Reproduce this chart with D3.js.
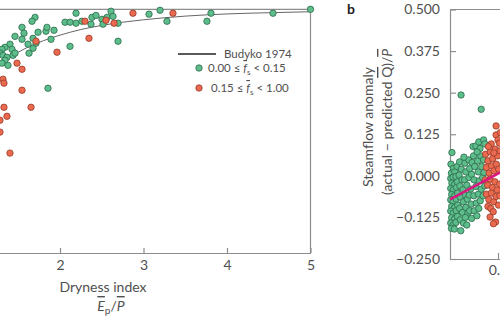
<!DOCTYPE html>
<html><head><meta charset="utf-8">
<script src="https://cdn.jsdelivr.net/npm/d3@7"></script>
<style>body{margin:0;background:#fff}svg{display:block}text{font-family:Lato,"Open Sans",sans-serif;fill:#505050}</style>
</head><body>
<script>
// ---------- Panel a data ----------
const aTicks = [2, 3, 4, 5];
const budykoX = [1.2, 1.4, 1.6, 1.8, 2.0, 2.25, 2.5, 2.75, 3.0, 3.5, 4.0, 4.5, 5.0];
const budykoY = [0.756, 0.804, 0.842, 0.871, 0.894, 0.917, 0.934, 0.947, 0.957, 0.972, 0.981, 0.986, 0.990];
const aGreen = [[1.701,0.967],[1.665,0.951],[1.545,0.926],[1.569,0.902],[1.461,0.889],[1.545,0.877],[1.677,0.881],[1.737,0.906],[1.832,0.910],[1.844,0.926],[1.928,0.914],[1.892,0.877],[1.617,0.857],[1.677,0.840],[1.713,0.861],[1.629,0.820],[1.401,0.857],[1.341,0.844],[1.425,0.836],[1.305,0.836],[1.281,0.820],[1.317,0.811],[1.437,0.811],[1.461,0.820],[1.365,0.803],[1.341,0.791],[1.305,0.779],[1.377,0.770],[2.120,0.848],[2.192,0.984],[2.192,0.943],[2.060,0.947],[2.120,0.947],[2.263,0.951],[2.383,0.967],[2.431,0.975],[2.371,0.939],[2.503,0.959],[2.515,0.939],[2.563,0.967],[2.611,0.992],[2.635,0.971],[2.695,0.943],[2.695,0.869],[1.856,0.676],[3.066,0.980],[3.198,0.996],[3.281,0.951],[3.808,0.984],[3.760,0.951],[4.551,0.984],[5.0,1.0]];
const aRed = [[1.713,0.869],[1.964,0.824],[2.299,0.951],[2.347,0.881],[2.551,0.955],[2.647,0.943],[2.874,0.984],[3.353,0.984],[1.485,0.779],[1.545,0.754],[1.317,0.713],[1.329,0.697],[1.545,0.668],[1.329,0.598],[1.653,0.598],[1.365,0.561],[1.281,0.545],[1.281,0.496],[1.401,0.410]];

// ---------- Panel b data ----------
const bYTicks = [-0.25, -0.125, 0, 0.125, 0.25, 0.375, 0.5];
const bXTicks = [0.2];
const bGreen = [[0.004,0.035],[0.014,0.022],[0.006,0.008],[0.02,0.012],[0.003,-0.008],[0.013,-0.004],[0.025,-0.002],[0.008,-0.022],[0.019,-0.026],[0.003,-0.038],[0.014,-0.042],[0.027,-0.035],[0.007,-0.056],[0.02,-0.06],[0.003,-0.072],[0.013,-0.078],[0.026,-0.07],[0.007,-0.092],[0.019,-0.095],[0.003,-0.106],[0.013,-0.112],[0.026,-0.105],[0.007,-0.126],[0.019,-0.13],[0.003,-0.142],[0.013,-0.148],[0.025,-0.14],[0.006,-0.158],[0.018,-0.16],[0.03,0.028],[0.031,-0.018],[0.032,-0.052],[0.032,-0.088],[0.031,-0.122],[0.008,0.07],
[0.04,0.042],[0.047,0.02],[0.038,0.002],[0.05,-0.012],[0.041,-0.03],[0.054,-0.042],[0.043,-0.064],[0.056,-0.078],[0.04,-0.098],[0.052,-0.11],[0.043,-0.132],[0.056,-0.142],[0.045,-0.165],[0.062,0.038],[0.066,0.012],[0.061,-0.012],[0.07,-0.028],[0.064,-0.058],[0.072,-0.07],[0.066,-0.095],[0.074,-0.112],[0.064,-0.125],[0.07,-0.148],[0.078,0.048],[0.082,0.022],[0.079,-0.005],[0.086,-0.04],[0.08,-0.058],[0.088,-0.085],[0.082,-0.105],[0.09,-0.128],[0.058,0.056],[0.09,0.005],[0.092,0.04],
[0.098,0.06],[0.103,0.028],[0.1,-0.012],[0.108,-0.032],[0.099,-0.06],[0.11,-0.082],[0.101,-0.105],[0.112,-0.12],[0.115,0.045],[0.118,0.012],[0.122,-0.015],[0.118,-0.055],[0.126,-0.075],[0.12,-0.098],[0.128,0.06],[0.132,0.028],[0.136,-0.005],[0.13,-0.04],[0.14,0.048],[0.142,0.01],[0.138,-0.06],[0.145,-0.03],
[0.046,0.243],[0.13,0.2],[0.096,0.088],[0.108,0.09],[0.12,0.102],[0.125,0.082],[0.14,0.108],[0.145,0.096],[0.113,0.072]];
const bRed = [[0.148,0.065],[0.158,0.045],[0.168,0.072],[0.178,0.052],[0.188,0.08],[0.198,0.06],[0.208,0.075],[0.152,0.025],[0.163,0.008],[0.173,0.03],[0.183,0.015],[0.193,0.035],[0.203,0.02],[0.147,-0.012],[0.157,-0.028],[0.167,-0.01],[0.177,-0.035],[0.187,-0.018],[0.197,-0.042],[0.207,-0.025],[0.152,-0.055],[0.162,-0.072],[0.172,-0.052],[0.182,-0.078],[0.192,-0.062],[0.202,-0.088],[0.158,-0.092],[0.17,-0.098],[0.18,-0.108],[0.167,-0.124],[0.19,-0.139],[0.181,-0.144],[0.192,0.15],[0.172,0.096],[0.192,0.123],[0.2,0.108],[0.183,0.069],[0.21,0.13],[0.206,0.098],[0.16,0.088],[0.208,-0.06]];
const fitX = [0, 0.25];
const fitY = [-0.071, 0.026];

const GREEN = "#5dbd8b", GREEN_S = "#2c6a4b", RED = "#ea6a50", RED_S = "#973a27", AXIS = "#8d8d8d";

const svg = d3.select("body").append("svg").attr("width", 500).attr("height", 319);
svg.append("rect").attr("width", 500).attr("height", 319).attr("fill", "#fff");

function styleAxis(g) {
  g.selectAll(".domain").attr("stroke", AXIS).attr("stroke-width", 1.2);
  g.selectAll(".tick line").attr("stroke", AXIS).attr("stroke-width", 1.2);
  g.selectAll(".tick text").attr("font-size", 14).attr("font-family", "Lato").attr("fill", "#505050");
}
function dots(g, data, x, y, fill, stroke) {
  g.selectAll(null).data(data).join("circle")
    .attr("cx", d => x(d[0])).attr("cy", d => y(d[1])).attr("r", 3.2)
    .attr("fill", fill).attr("stroke", stroke).attr("stroke-width", 0.8);
}

// ---------- Panel a ----------
const xA = d3.scaleLinear().domain([1, 5]).range([-23.5, 310.5]);
const yA = d3.scaleLinear().domain([0, 1]).range([253, 9.3]);
const ga = svg.append("g");
ga.append("line").attr("x1", xA(1)).attr("x2", xA(5)).attr("y1", yA(1)).attr("y2", yA(1)).attr("stroke", AXIS).attr("stroke-width", 1.2);
ga.append("line").attr("x1", xA(5)).attr("x2", xA(5)).attr("y1", yA(0)).attr("y2", yA(1)).attr("stroke", AXIS).attr("stroke-width", 1.2);
const axA = ga.append("g").attr("transform", `translate(0,${yA(0)})`)
  .call(d3.axisBottom(xA).tickValues(aTicks).tickSizeInner(-5).tickSizeOuter(0).tickPadding(7).tickFormat(d3.format("d")));
styleAxis(axA);
ga.append("path").datum(budykoX.map((x, i) => [x, budykoY[i]]))
  .attr("d", d3.line().x(d => xA(d[0])).y(d => yA(d[1])).curve(d3.curveMonotoneX))
  .attr("fill", "none").attr("stroke", "#666").attr("stroke-width", 1);
dots(ga, aGreen, xA, yA, GREEN, GREEN_S);
dots(ga, aRed, xA, yA, RED, RED_S);

// legend
ga.append("line").attr("x1", 178).attr("x2", 216).attr("y1", 54).attr("y2", 54).attr("stroke", "#222").attr("stroke-width", 1.5);
ga.append("text").attr("x", 224).attr("y", 58).attr("font-size", 11.5).text("Budyko 1974");
ga.append("circle").attr("cx", 199).attr("cy", 68).attr("r", 3.2).attr("fill", GREEN).attr("stroke", GREEN_S).attr("stroke-width", 0.8);
ga.append("circle").attr("cx", 199).attr("cy", 88).attr("r", 3.2).attr("fill", RED).attr("stroke", RED_S).attr("stroke-width", 0.8);
function legText(x, y, a, b) {
  const t = ga.append("text").attr("x", x).attr("y", y).attr("font-size", 11.5);
  t.append("tspan").text(a + " \u2264 ");
  t.append("tspan").attr("font-style", "italic").style("text-decoration", "overline").text("f");
  t.append("tspan").attr("font-size", 8).attr("dy", 3).text("s");
  t.append("tspan").attr("dy", -3).text(" < " + b);
}
legText(208, 72, "0.00", "0.15");
legText(211, 92, "0.15", "1.00");

// x title
ga.append("text").attr("x", 103).attr("y", 292).attr("text-anchor", "middle").attr("font-size", 14).text("Dryness index");
const xt2 = ga.append("text").attr("x", 111).attr("y", 311).attr("text-anchor", "middle").attr("font-size", 14);
xt2.append("tspan").attr("font-style", "italic").style("text-decoration", "overline").text("E");
xt2.append("tspan").attr("font-size", 10).attr("dy", 3).text("p");
xt2.append("tspan").attr("dy", -3).text("/");
xt2.append("tspan").attr("font-style", "italic").style("text-decoration", "overline").text("P");

// ---------- Panel b ----------
const xB = d3.scaleLinear().domain([0, 0.2]).range([450, 498]);
const yB = d3.scaleLinear().domain([-0.25, 0.5]).range([259, 9.5]);
const gb = svg.append("g");
gb.append("line").attr("x1", xB(0)).attr("x2", xB(0.3)).attr("y1", yB(0.5)).attr("y2", yB(0.5)).attr("stroke", AXIS).attr("stroke-width", 1.2);
const ayB = gb.append("g").attr("transform", `translate(${xB(0)},0)`)
  .call(d3.axisLeft(yB).tickValues(bYTicks).tickSizeInner(-6).tickSizeOuter(0).tickPadding(10).tickFormat(d3.format(".3f")));
styleAxis(ayB);
const axB = gb.append("g").attr("transform", `translate(0,${yB(-0.25)})`)
  .call(d3.axisBottom(xB.copy().domain([0, 0.3]).range([450, 522])).tickValues(bXTicks).tickSizeInner(-6).tickSizeOuter(0).tickPadding(6).tickFormat(d3.format(".1f")));
styleAxis(axB);
dots(gb, bGreen, xB, yB, GREEN, GREEN_S);
dots(gb, bRed, xB, yB, RED, RED_S);
gb.append("path").datum(fitX.map((x, i) => [x, fitY[i]]))
  .attr("d", d3.line().x(d => xB(d[0])).y(d => yB(d[1])))
  .attr("stroke", "#d8187f").attr("stroke-width", 2.6).attr("fill", "none");

gb.append("text").attr("x", 347).attr("y", 14).attr("font-size", 14).attr("font-weight", "bold").style("fill", "#222").text("b");
gb.append("text").attr("transform", "translate(373,127) rotate(-90)").attr("text-anchor", "middle").attr("font-size", 14).text("Steamflow anomaly");
const yt2 = gb.append("text").attr("transform", "translate(392,122) rotate(-90)").attr("text-anchor", "middle").attr("font-size", 14);
yt2.append("tspan").text("(actual \u2212 predicted ");
yt2.append("tspan").style("text-decoration", "overline").text("Q");
yt2.append("tspan").text(")/");
yt2.append("tspan").attr("font-style", "italic").style("text-decoration", "overline").text("P");
</script>
</body></html>
